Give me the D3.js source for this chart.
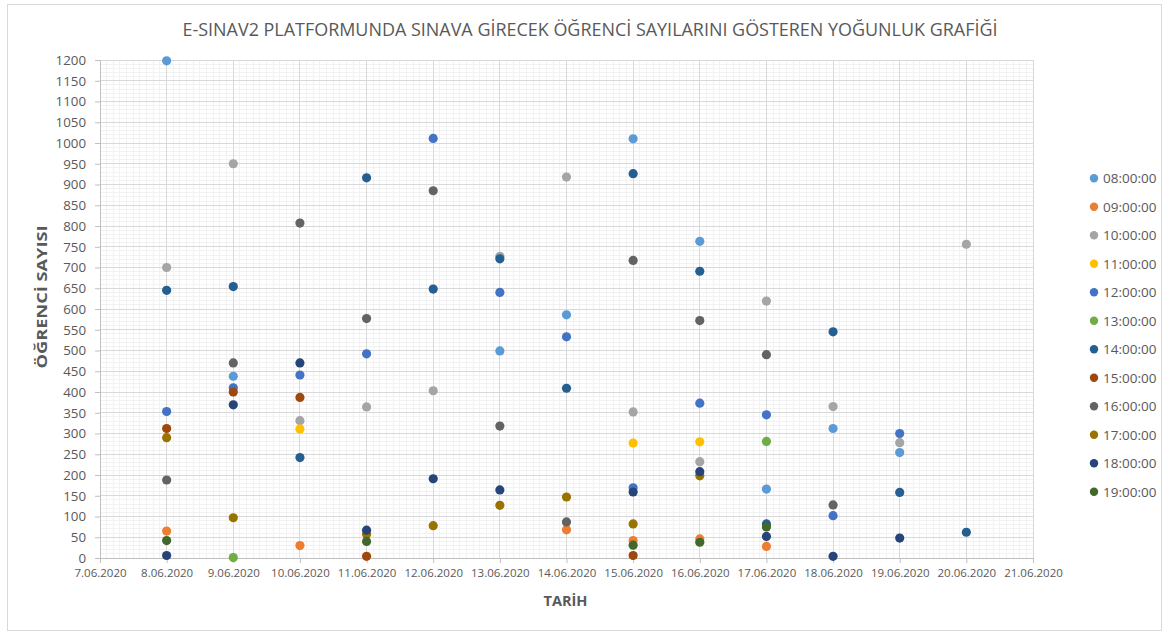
<!DOCTYPE html>
<html>
<head>
<meta charset="utf-8">
<script src="https://cdn.jsdelivr.net/npm/d3@7"></script>
<style>
	body { margin: 0; background: #fff; }
	svg { display: block; font-family: "Open Sans", "Liberation Sans", sans-serif; }
</style>
</head>
<body>
<div id="chart"></div>
<script>
// exam dates (x) and session hours (series)
const dates = ["2020-06-08", "2020-06-09", "2020-06-10", "2020-06-11", "2020-06-12", "2020-06-13", "2020-06-14",
	"2020-06-15", "2020-06-16", "2020-06-17", "2020-06-18", "2020-06-19", "2020-06-20"];
const seriesNames = ["08:00:00", "09:00:00", "10:00:00", "11:00:00", "12:00:00", "13:00:00",
	"14:00:00", "15:00:00", "16:00:00", "17:00:00", "18:00:00", "19:00:00"];
const seriesColors = ["#5B9BD5", "#ED7D31", "#A5A5A5", "#FFC000", "#4472C4", "#70AD47",
	"#255E91", "#9E480E", "#636363", "#997300", "#264478", "#43682B"];

// student counts per date (null = no session)
const s08 = [1198, 438, null, null, null, 499, 586, 1010, 763, 166, 312, 254, null];
const s09 = [65, null, 30, null, null, null, 68, 42, 46, 28, null, null, null];
const s10 = [700, 950, 331, 364, 403, 727, 918, 352, 232, 619, 365, 278, 756];
const s11 = [null, null, 311, null, null, null, null, 277, 280, null, null, null, null];
const s12 = [353, 410, 441, 492, 1011, 640, 533, 169, 373, 345, 102, 300, null];
const s13 = [null, 1, null, null, null, null, null, null, null, 281, null, null, null];
const s14 = [645, 654, 242, 916, 648, 721, 409, 926, 691, 82, 545, 158, 62];
const s15 = [312, 400, 387, 4, null, null, null, 6, null, null, null, null, null];
const s16 = [188, 470, 807, 577, 885, 318, 87, 717, 572, 490, 128, null, null];
const s17 = [290, 97, null, 57, 78, 127, 147, 82, 198, null, null, null, null];
const s18 = [6, 369, 470, 67, 191, 164, null, 159, 208, 52, 4, 48, null];
const s19 = [42, null, null, 40, null, null, null, 31, 38, 75, null, null, null];
const seriesValues = [s08, s09, s10, s11, s12, s13, s14, s15, s16, s17, s18, s19];

const W = 1169, H = 632;
const plot = {left: 100, right: 1033, top: 60, bottom: 558};
const textColor = "#595959";

const svg = d3.select("#chart")
	.append("svg")
		.attr("width", W)
		.attr("height", H);

// chart border
svg.append("rect")
	.attr("x", 7.5).attr("y", 4.5)
	.attr("width", 1154).attr("height", 626)
	.attr("fill", "#fff")
	.attr("stroke", "#D9D9D9");

// scales
const x = d3.scaleUtc()
	.domain([new Date(Date.UTC(2020, 5, 7)), new Date(Date.UTC(2020, 5, 21))])
	.range([plot.left, plot.right]);
const xDays = d3.scaleLinear().domain([0, 14]).range([plot.left, plot.right]);
const y = d3.scaleLinear()
	.domain([0, 1200])
	.range([plot.bottom, plot.top]);

/* eslint-disable indent */
// minor gridlines
const grid = svg.append("g").attr("shape-rendering", "crispEdges");
grid.selectAll("line.minx")
	.data(d3.range(0, 140).map(i => i / 10).filter(d => d % 1 !== 0))
	.join("line")
		.attr("x1", d => xDays(d)).attr("x2", d => xDays(d))
		.attr("y1", plot.top).attr("y2", plot.bottom)
		.attr("stroke", "#F2F2F2");
grid.selectAll("line.miny")
	.data(y.ticks(120).filter(d => d % 50 !== 0))
	.join("line")
		.attr("x1", plot.left).attr("x2", plot.right)
		.attr("y1", d => y(d)).attr("y2", d => y(d))
		.attr("stroke", "#F2F2F2");

// major gridlines
grid.append("g").selectAll("line")
	.data(x.ticks(d3.utcDay.every(1)))
	.join("line")
		.attr("x1", d => x(d)).attr("x2", d => x(d))
		.attr("y1", plot.top).attr("y2", plot.bottom)
		.attr("stroke", "#D9D9D9");
grid.append("g").selectAll("line")
	.data(y.ticks(24))
	.join("line")
		.attr("x1", plot.left).attr("x2", plot.right)
		.attr("y1", d => y(d)).attr("y2", d => y(d))
		.attr("stroke", "#D9D9D9");

// X axis
const fmt = d3.utcFormat("%-d.%m.%Y");
svg.append("g")
		.attr("transform", `translate(0,${plot.bottom})`)
		.call(d3.axisBottom(x).ticks(d3.utcDay.every(1)).tickFormat(fmt).tickSizeInner(5).tickSizeOuter(0).tickPadding(6))
		.call(g => g.select(".domain").attr("stroke", "#BFBFBF"))
		.call(g => g.selectAll(".tick line").attr("stroke", "#BFBFBF"))
	.selectAll("text")
		.attr("fill", textColor)
		.attr("font-size", "11.5px")
		.attr("font-family", "\"Open Sans\", sans-serif");

// Y axis
svg.append("g")
		.attr("transform", `translate(${plot.left},0)`)
		.call(d3.axisLeft(y).ticks(24).tickFormat(d3.format("d")).tickSizeInner(5).tickSizeOuter(0).tickPadding(9))
		.call(g => g.select(".domain").attr("stroke", "#BFBFBF"))
		.call(g => g.selectAll(".tick line").attr("stroke", "#BFBFBF"))
	.selectAll("text")
		.attr("fill", textColor)
		.attr("font-size", "13.3px")
		.attr("font-family", "\"Open Sans\", sans-serif");

// points, one group per session hour
const parse = d3.utcParse("%Y-%m-%d");
svg.append("g").selectAll("g")
	.data(seriesValues)
	.join("g")
		.attr("fill", (d, i) => seriesColors[i])
	.selectAll("circle")
	.data(vals => vals.map((v, j) => ({date: parse(dates[j]), value: v})).filter(p => p.value !== null))
	.join("circle")
		.attr("cx", p => x(p.date))
		.attr("cy", p => y(p.value))
		.attr("r", 4.6);

// titles
svg.append("text")
	.attr("x", 590)
	.attr("y", 36)
	.attr("text-anchor", "middle")
	.attr("font-size", "19px")
	.attr("textLength", 815)
	.attr("lengthAdjust", "spacingAndGlyphs")
	.attr("fill", textColor)
	.text("E-SINAV2 PLATFORMUNDA SINAVA GİRECEK ÖĞRENCİ SAYILARINI GÖSTEREN YOĞUNLUK GRAFİĞİ");

svg.append("text")
	.attr("x", 565.5)
	.attr("y", 606)
	.attr("text-anchor", "middle")
	.attr("font-size", "14px")
	.attr("font-weight", "bold")
	.attr("textLength", 44)
	.attr("lengthAdjust", "spacingAndGlyphs")
	.attr("fill", textColor)
	.text("TARİH");

svg.append("text")
	.attr("transform", "translate(47,297) rotate(-90)")
	.attr("text-anchor", "middle")
	.attr("font-size", "14px")
	.attr("font-weight", "bold")
	.attr("textLength", 143)
	.attr("lengthAdjust", "spacingAndGlyphs")
	.attr("fill", textColor)
	.text("ÖĞRENCİ SAYISI");

// legend
const legend = svg.append("g")
	.selectAll("g")
	.data(seriesNames)
	.join("g")
		.attr("transform", (d, i) => `translate(1094,${178.3 + i * 28.5})`);
legend.append("circle")
	.attr("r", 4.2)
	.attr("fill", (d, i) => seriesColors[i]);
legend.append("text")
	.attr("x", 9)
	.attr("dy", "0.36em")
	.attr("font-size", "13.5px")
	.attr("fill", textColor)
	.text(d => d);
/* eslint-enable */
</script>
</body>
</html>
